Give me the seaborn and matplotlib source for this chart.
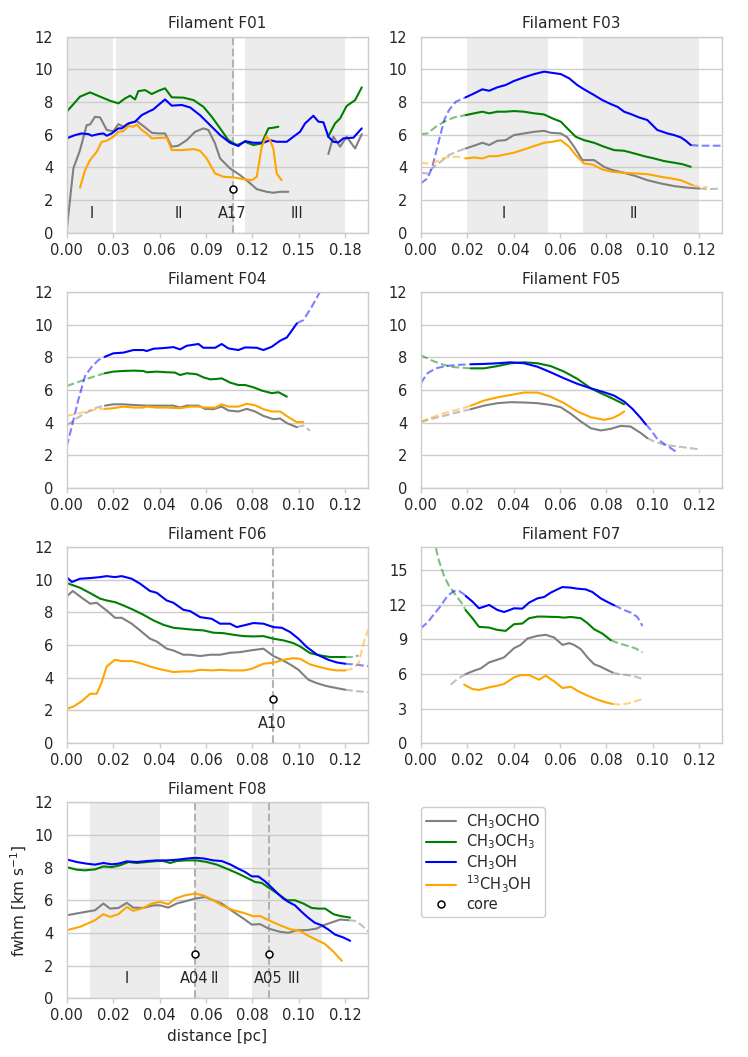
import matplotlib
matplotlib.use("Agg")
import matplotlib.pyplot as plt
import seaborn as sns
from matplotlib.lines import Line2D
from matplotlib.ticker import FormatStrFormatter, MultipleLocator

# ---------------- data ----------------
species = ["CH$_3$OCHO", "CH$_3$OCH$_3$", "CH$_3$OH", "$^{13}$CH$_3$OH"]
colors = ["gray", "green", "blue", "orange"]

# ---- F01 ----
F01_gray_x = [0, 0.0043, 0.0086, 0.0129, 0.0151, 0.0183, 0.0216, 0.0259, 0.0302, 0.0334, 0.0366, 0.0399, 0.0453, 0.0496,
              0.055, 0.0593, 0.0636, 0.0679, 0.0722, 0.0776, 0.083, 0.0884, 0.0916, 0.0959, 0.0992, 0.1056, 0.1121, 0.1175,
              0.1229, 0.1293, 0.1336, 0.138, 0.1433]
F01_gray_y = [0.16, 3.94, 5.06, 6.59, 6.63, 7.1, 7.06, 6.29, 6.22, 6.65, 6.49, 6.69, 6.84, 6.53,
              6.12, 6.08, 6.08, 5.27, 5.33, 5.67, 6.18, 6.39, 6.29, 5.47, 4.55, 3.94, 3.53, 3.12,
              2.67, 2.51, 2.45, 2.51, 2.51]
F01_gray2_x = [0.1692, 0.1724, 0.1768, 0.181, 0.1865, 0.1908]
F01_gray2_y = [4.82, 5.88, 5.27, 5.88, 5.16, 6.04]
F01_green_x = [0, 0.0086, 0.0151, 0.0216, 0.028, 0.0334, 0.0377, 0.041, 0.0442, 0.0463, 0.0507, 0.055, 0.0593, 0.0636,
               0.0679, 0.0754, 0.082, 0.0884, 0.0938, 0.0992, 0.1045, 0.11, 0.1153, 0.1207, 0.126, 0.1304, 0.1336, 0.1369]
F01_green_y = [7.41, 8.33, 8.59, 8.33, 8.08, 7.92, 8.22, 8.39, 8.16, 8.67, 8.73, 8.49, 8.69, 8.84,
               8.29, 8.27, 8.12, 7.71, 7.10, 6.39, 5.67, 5.37, 5.57, 5.37, 5.47, 6.39, 6.43, 6.49]
F01_green2_x = [0.169, 0.1724, 0.1735, 0.1768, 0.181, 0.1865, 0.1908]
F01_green2_y = [5.88, 6.49, 6.69, 7.0, 7.76, 8.12, 8.9]
F01_blue_x = [0, 0.0054, 0.0097, 0.014, 0.0162, 0.0205, 0.0237, 0.0259, 0.0291, 0.0334, 0.0356, 0.0399, 0.0442, 0.0485,
              0.0528, 0.056, 0.0593, 0.0636, 0.0679, 0.0744, 0.0798, 0.0862, 0.0927, 0.0992, 0.1056, 0.111, 0.1153,
              0.1207, 0.1272, 0.1315, 0.1358, 0.1423, 0.1466, 0.1509, 0.1541, 0.1595, 0.1628, 0.166, 0.1692, 0.1724,
              0.1757, 0.1789, 0.1854, 0.1908]
F01_blue_y = [5.78, 5.98, 6.08, 6.04, 5.94, 6.04, 6.08, 5.94, 6.08, 6.39, 6.39, 6.69, 6.80, 7.2,
              7.41, 7.55, 7.82, 8.16, 7.78, 7.82, 7.67, 7.2, 6.59, 5.98, 5.51, 5.31, 5.61,
              5.51, 5.51, 5.67, 5.57, 5.57, 5.88, 6.18, 6.69, 7.16, 6.80, 6.76, 5.88, 5.57,
              5.53, 5.78, 5.82, 6.39]
F01_orange_x = [0.0086, 0.0119, 0.0151, 0.0194, 0.0226, 0.0259, 0.0302, 0.0334, 0.0366, 0.0399, 0.0431, 0.0453, 0.0485,
                0.0517, 0.055, 0.0625, 0.0647, 0.0679, 0.0744, 0.082, 0.0862, 0.0905, 0.0959, 0.1013, 0.1078, 0.1142,
                0.1196, 0.1229, 0.1261, 0.1289, 0.1315, 0.1336, 0.1358, 0.139]
F01_orange_y = [2.76, 3.84, 4.45, 4.96, 5.57, 5.63, 5.88, 6.18, 6.22, 6.53, 6.49, 6.63, 6.29,
                6.08, 5.78, 5.82, 5.82, 5.06, 5.06, 5.12, 5.02, 4.55, 3.63, 3.43, 3.39, 3.29,
                3.22, 3.43, 5.27, 5.88, 5.67, 5.16, 3.63, 3.22]
F01_regions = [(0.0, 0.030), (0.032, 0.108), (0.115, 0.18)]
F01_region_labels = ["I", "II", "III"]
F01_region_label_x = [0.016, 0.0726, 0.149]
F01_cores_x = [0.1078]
F01_core_labels = ["A17"]

# ---- F03 ----
F03_gray_dx = [0, 0.0029, 0.0057, 0.0086, 0.0122, 0.0165, 0.0194]
F03_gray_dy = [3.67, 3.63, 4.04, 4.35, 4.76, 5.02, 5.16]
F03_gray_x = [0.0194, 0.023, 0.0266, 0.0295, 0.033, 0.0366, 0.0402, 0.0445, 0.0489, 0.0532, 0.056, 0.0604, 0.0632,
              0.0661, 0.0697, 0.0747, 0.079, 0.0826, 0.0877, 0.0927, 0.0977, 0.1035, 0.1092, 0.115, 0.12]
F03_gray_y = [5.16, 5.33, 5.51, 5.37, 5.63, 5.67, 5.98, 6.08, 6.18, 6.24, 6.12, 6.08, 5.84,
              5.27, 4.45, 4.45, 4.04, 3.84, 3.67, 3.47, 3.22, 3.02, 2.86, 2.76, 2.71]
F03_gray_ex = [0.12, 0.1236, 0.1293]
F03_gray_ey = [2.71, 2.67, 2.71]
F03_green_dx = [0, 0.0029, 0.0065, 0.0101, 0.0144, 0.0194]
F03_green_dy = [6.04, 6.08, 6.49, 6.80, 7.06, 7.2]
F03_green_x = [0.0194, 0.023, 0.0266, 0.0295, 0.033, 0.0366, 0.0402, 0.0445, 0.0489, 0.0532, 0.0568, 0.0604, 0.0632,
               0.0668, 0.0704, 0.0747, 0.079, 0.0834, 0.0877, 0.092, 0.0963, 0.1006, 0.1049, 0.1092, 0.1128, 0.1164]
F03_green_y = [7.2, 7.31, 7.41, 7.31, 7.41, 7.41, 7.45, 7.41, 7.31, 7.24, 7.0, 6.8, 6.39,
               5.88, 5.67, 5.51, 5.27, 5.06, 5.02, 4.86, 4.69, 4.55, 4.39, 4.29, 4.20, 4.04]
F03_blue_dx = [0, 0.0029, 0.005, 0.0079, 0.0101, 0.0122, 0.0151, 0.0194]
F03_blue_dy = [3.02, 3.33, 4.04, 5.67, 6.9, 7.51, 8.02, 8.29]
F03_blue_x = [0.0194, 0.023, 0.0266, 0.0295, 0.033, 0.0366, 0.0402, 0.0445, 0.0489, 0.0532, 0.056, 0.0604, 0.064,
              0.0675, 0.0704, 0.0747, 0.0783, 0.0819, 0.0848, 0.0877, 0.0905, 0.0941, 0.0977, 0.102, 0.1064, 0.1092,
              0.1121, 0.1143, 0.1164]
F03_blue_y = [8.29, 8.53, 8.78, 8.69, 8.9, 9.04, 9.29, 9.51, 9.71, 9.86, 9.80, 9.71, 9.45,
              9.04, 8.78, 8.43, 8.12, 7.88, 7.71, 7.41, 7.27, 7.06, 6.90, 6.29, 6.08, 5.98,
              5.84, 5.63, 5.37]
F03_blue_ex = [0.1164, 0.12, 0.1236, 0.1293]
F03_blue_ey = [5.37, 5.33, 5.33, 5.33]
F03_orange_dx = [0, 0.0029, 0.0065, 0.0093, 0.0129, 0.0165, 0.0194]
F03_orange_dy = [4.29, 4.24, 4.35, 4.55, 4.65, 4.65, 4.55]
F03_orange_x = [0.0194, 0.023, 0.0266, 0.0295, 0.033, 0.0366, 0.0402, 0.0445, 0.0489, 0.0532, 0.0568, 0.0604, 0.064,
                0.0668, 0.0704, 0.074, 0.0783, 0.0826, 0.0877, 0.0934, 0.0977, 0.1035, 0.1078, 0.1121, 0.1171]
F03_orange_y = [4.55, 4.61, 4.55, 4.69, 4.69, 4.80, 4.90, 5.10, 5.31, 5.51, 5.57, 5.67, 5.27,
                4.76, 4.24, 4.18, 3.88, 3.73, 3.67, 3.63, 3.59, 3.43, 3.33, 3.22, 2.92]
F03_orange_ex = [0.1171, 0.12, 0.1236]
F03_orange_ey = [2.92, 2.82, 2.78]
F03_regions = [(0.02, 0.055), (0.07, 0.12)]
F03_region_labels = ["I", "II"]
F03_region_label_x = [0.0356, 0.0917]

# ---- F04 ----
F04_gray_dx = [0, 0.0043, 0.0086, 0.0129, 0.0165]
F04_gray_dy = [3.82, 4.27, 4.62, 4.92, 5.04]
F04_gray_x = [0.0165, 0.0201, 0.0244, 0.0287, 0.0345, 0.0402, 0.046, 0.0489, 0.0517, 0.0568, 0.0596, 0.0632, 0.0668,
              0.0697, 0.074, 0.0776, 0.0812, 0.0848, 0.0891, 0.092, 0.0949, 0.0992]
F04_gray_y = [5.04, 5.12, 5.12, 5.08, 5.04, 5.04, 5.04, 4.92, 5.04, 5.04, 4.84, 4.82, 4.98,
              4.74, 4.68, 4.84, 4.68, 4.41, 4.21, 4.25, 3.97, 3.72]
F04_gray_ex = [0.0992, 0.102, 0.1049]
F04_gray_ey = [3.72, 3.82, 3.50]
F04_green_dx = [0, 0.0043, 0.0086, 0.0129, 0.0165]
F04_green_dy = [6.24, 6.45, 6.67, 6.87, 7.02]
F04_green_x = [0.0165, 0.0201, 0.0244, 0.0287, 0.033, 0.0345, 0.0388, 0.0431, 0.0467, 0.0489, 0.0517, 0.056, 0.0589,
               0.0618, 0.0647, 0.0668, 0.0704, 0.074, 0.0769, 0.0805, 0.0841, 0.0884, 0.0913, 0.0949]
F04_green_y = [7.02, 7.12, 7.16, 7.18, 7.16, 7.08, 7.12, 7.08, 7.06, 6.91, 7.02, 6.96, 6.77,
               6.65, 6.67, 6.71, 6.45, 6.30, 6.30, 6.16, 5.96, 5.80, 5.86, 5.59]
F04_blue_dx = [0, 0.0022, 0.005, 0.0079, 0.0108, 0.0137, 0.0165]
F04_blue_dy = [2.54, 3.76, 5.39, 6.85, 7.42, 7.83, 8.03]
F04_blue_x = [0.0165, 0.0201, 0.0244, 0.0287, 0.033, 0.0345, 0.0374, 0.0417, 0.046, 0.0489, 0.0517, 0.0568, 0.0589,
              0.064, 0.0668, 0.0697, 0.074, 0.0769, 0.0819, 0.0848, 0.0884, 0.092, 0.0949, 0.097, 0.0992]
F04_blue_y = [8.03, 8.24, 8.28, 8.44, 8.44, 8.38, 8.52, 8.56, 8.62, 8.48, 8.70, 8.81, 8.58,
              8.58, 8.81, 8.54, 8.44, 8.60, 8.58, 8.44, 8.64, 9.01, 9.21, 9.62, 10.07]
F04_blue_ex = [0.0992, 0.102, 0.1056, 0.1092, 0.111]
F04_blue_ey = [10.07, 10.27, 11.08, 12.0, 12.6]
F04_orange_dx = [0, 0.0043, 0.0086, 0.0129, 0.0165]
F04_orange_dy = [4.41, 4.54, 4.68, 4.82, 4.84]
F04_orange_x = [0.0165, 0.0201, 0.0244, 0.0287, 0.033, 0.0345, 0.0388, 0.0431, 0.0489, 0.0532, 0.0568, 0.0596, 0.064,
                0.0668, 0.0697, 0.074, 0.0776, 0.0812, 0.0848, 0.0884, 0.092, 0.0956, 0.0992, 0.102]
F04_orange_y = [4.84, 4.88, 4.98, 4.92, 4.92, 4.98, 4.92, 4.92, 4.88, 4.98, 4.98, 4.92, 4.92,
                5.12, 4.98, 4.98, 5.15, 5.06, 4.82, 4.68, 4.68, 4.33, 4.03, 4.03]

# ---- F05 ----
F05_gray_dx = [0, 0.0057, 0.0115, 0.0172, 0.0216]
F05_gray_dy = [4.03, 4.27, 4.47, 4.68, 4.82]
F05_gray_x = [0.0216, 0.0273, 0.0331, 0.0388, 0.0446, 0.0503, 0.056, 0.0604, 0.0647, 0.069, 0.0733, 0.0776, 0.0819,
              0.0862, 0.0905, 0.0949, 0.0977]
F05_gray_y = [4.82, 5.04, 5.19, 5.25, 5.23, 5.19, 5.08, 4.94, 4.54, 4.07, 3.66, 3.52, 3.62,
              3.80, 3.76, 3.36, 3.05]
F05_gray_ex = [0.0977, 0.1006, 0.1049, 0.1107, 0.1193]
F05_gray_ey = [3.05, 2.85, 2.64, 2.54, 2.38]
F05_green_dx = [0, 0.0043, 0.0086, 0.0129, 0.0172, 0.0216]
F05_green_dy = [8.13, 7.83, 7.59, 7.42, 7.36, 7.32]
F05_green_x = [0.0216, 0.0273, 0.0331, 0.0388, 0.0446, 0.0503, 0.056, 0.0618, 0.0676, 0.0733, 0.0776, 0.0819, 0.0877]
F05_green_y = [7.32, 7.32, 7.46, 7.63, 7.69, 7.63, 7.46, 7.12, 6.67, 6.10, 5.80, 5.53, 5.12]
F05_blue_dx = [0, 0.0029, 0.0065, 0.0108, 0.0158, 0.0216]
F05_blue_dy = [6.41, 7.02, 7.32, 7.46, 7.53, 7.57]
F05_blue_x = [0.0216, 0.0273, 0.0331, 0.0388, 0.0446, 0.0503, 0.056, 0.0618, 0.0676, 0.0733, 0.079, 0.0834, 0.0877,
              0.0913, 0.0949, 0.097]
F05_blue_y = [7.57, 7.59, 7.63, 7.69, 7.63, 7.42, 7.08, 6.71, 6.37, 6.10, 5.86, 5.65, 5.29,
              4.84, 4.27, 3.9]
F05_blue_ex = [0.097, 0.0992, 0.102, 0.1056, 0.1099]
F05_blue_ey = [3.9, 3.56, 2.99, 2.64, 2.24]
F05_orange_dx = [0, 0.0057, 0.0115, 0.0172, 0.0216]
F05_orange_dy = [4.07, 4.37, 4.64, 4.84, 5.04]
F05_orange_x = [0.0216, 0.0273, 0.0331, 0.0388, 0.0446, 0.0503, 0.056, 0.0618, 0.0676, 0.0733, 0.079, 0.0826, 0.0855, 0.0877]
F05_orange_y = [5.04, 5.35, 5.55, 5.69, 5.84, 5.84, 5.59, 5.19, 4.68, 4.33, 4.17, 4.27, 4.47, 4.68]

# ---- F06 ----
F06_gray_x = [0, 0.0026, 0.0057, 0.0101, 0.0129, 0.0172, 0.0208, 0.0237, 0.028, 0.0316, 0.0359, 0.0388, 0.0431, 0.046,
              0.0503, 0.0532, 0.0575, 0.0618, 0.0661, 0.0704, 0.0747, 0.079, 0.0848, 0.0891, 0.0927, 0.0963, 0.0999,
              0.1042, 0.1078, 0.1121, 0.1164, 0.12]
F06_gray_y = [8.98, 9.31, 8.98, 8.53, 8.59, 8.12, 7.67, 7.67, 7.31, 6.90, 6.39, 6.22, 5.78, 5.67,
              5.41, 5.41, 5.33, 5.41, 5.41, 5.53, 5.57, 5.67, 5.78, 5.33, 5.10, 4.82, 4.49,
              3.88, 3.67, 3.49, 3.37, 3.27]
F06_gray_ex = [0.12, 0.125, 0.13]
F06_gray_ey = [3.27, 3.18, 3.12]
F06_green_x = [0, 0.0029, 0.0057, 0.0101, 0.0144, 0.0172, 0.0208, 0.0244, 0.0287, 0.033, 0.0374, 0.0417, 0.046, 0.0503,
               0.0546, 0.0589, 0.0632, 0.0675, 0.0719, 0.0762, 0.0805, 0.0848, 0.0891, 0.0934, 0.0977, 0.1006, 0.1049,
               0.1092, 0.1135, 0.12]
F06_green_y = [9.80, 9.65, 9.51, 9.18, 8.84, 8.73, 8.63, 8.43, 8.16, 7.86, 7.51, 7.24, 7.06, 7.0,
               6.94, 6.90, 6.76, 6.73, 6.63, 6.55, 6.53, 6.55, 6.39, 6.29, 6.12, 5.92, 5.51,
               5.37, 5.27, 5.27]
F06_green_ex = [0.12, 0.1236, 0.1258]
F06_green_ey = [5.27, 5.27, 5.37]
F06_blue_x = [0, 0.0022, 0.0057, 0.0101, 0.0144, 0.0172, 0.0208, 0.0237, 0.028, 0.0316, 0.0359, 0.0388, 0.0431, 0.046,
              0.0503, 0.0532, 0.0575, 0.0625, 0.0661, 0.0704, 0.0733, 0.0762, 0.0805, 0.0848, 0.0891, 0.0927, 0.0963,
              0.0999, 0.1035, 0.1078, 0.1128, 0.1164, 0.12]
F06_blue_y = [10.16, 9.86, 10.06, 10.10, 10.16, 10.22, 10.16, 10.22, 10.06, 9.76, 9.31, 9.2, 8.73, 8.59,
              8.16, 8.08, 7.71, 7.61, 7.31, 7.31, 7.10, 7.20, 7.35, 7.31, 7.10, 7.06, 6.80,
              6.39, 5.88, 5.43, 5.10, 4.94, 4.86]
F06_blue_ex = [0.12, 0.125, 0.13]
F06_blue_ey = [4.86, 4.80, 4.71]
F06_orange_x = [0, 0.0029, 0.0065, 0.0101, 0.0129, 0.0151, 0.0172, 0.0208, 0.0237, 0.028, 0.0316, 0.0359, 0.0395, 0.046,
                0.0503, 0.0539, 0.0575, 0.0632, 0.0661, 0.0704, 0.0762, 0.0798, 0.0848, 0.0891, 0.0934, 0.0977, 0.1006,
                0.1049, 0.1092, 0.1135, 0.1164, 0.12]
F06_orange_y = [2.10, 2.24, 2.57, 3.02, 3.02, 3.73, 4.69, 5.10, 5.02, 5.02, 4.90, 4.69, 4.55, 4.35,
                4.39, 4.39, 4.49, 4.45, 4.49, 4.45, 4.45, 4.55, 4.86, 4.92, 5.10, 5.20, 5.16,
                4.82, 4.65, 4.51, 4.45, 4.45]
F06_orange_ex = [0.12, 0.1229, 0.1258, 0.1279, 0.13]
F06_orange_ey = [4.45, 4.55, 4.86, 6.08, 6.96]
F06_cores_x = [0.0891]
F06_core_labels = ["A10"]

# ---- F07 ----
F07_gray_dx = [0.0129, 0.0158, 0.0187, 0.0194]
F07_gray_dy = [5.07, 5.56, 5.90, 5.99]
F07_gray_x = [0.0194, 0.023, 0.0259, 0.0295, 0.033, 0.0359, 0.0402, 0.0431, 0.046, 0.0503, 0.0539, 0.0575, 0.0611,
              0.064, 0.0661, 0.069, 0.0719, 0.0747, 0.0776, 0.0805, 0.0826]
F07_gray_y = [5.99, 6.28, 6.48, 7.0, 7.23, 7.43, 8.23, 8.52, 9.07, 9.30, 9.39, 9.16, 8.52,
              8.67, 8.52, 8.15, 7.43, 6.85, 6.62, 6.33, 6.13]
F07_gray_ex = [0.0826, 0.0855, 0.0891, 0.0927, 0.0956]
F07_gray_ey = [6.13, 5.99, 5.90, 5.76, 5.56]
F07_green_dx = [0.0065, 0.0079, 0.0101, 0.0122, 0.0151, 0.018, 0.0194]
F07_green_dy = [16.93, 15.78, 14.48, 13.62, 12.84, 12.04, 11.52]
F07_green_x = [0.0194, 0.0223, 0.0251, 0.0295, 0.033, 0.0366, 0.0402, 0.0438, 0.0467, 0.0503, 0.0532, 0.0568, 0.0589,
               0.0618, 0.0647, 0.069, 0.0719, 0.0747, 0.0783, 0.0819]
F07_green_y = [11.52, 10.83, 10.08, 10.02, 9.82, 9.73, 10.31, 10.37, 10.83, 10.97, 10.97, 10.94, 10.94,
               10.88, 10.94, 10.83, 10.40, 9.88, 9.50, 8.93]
F07_green_ex = [0.0819, 0.0855, 0.0891, 0.0927, 0.0956]
F07_green_ey = [8.93, 8.64, 8.44, 8.21, 7.86]
F07_blue_dx = [0, 0.0029, 0.0057, 0.0086, 0.0115, 0.0144, 0.0165, 0.0187, 0.0194]
F07_blue_dy = [9.96, 10.45, 11.17, 11.89, 12.76, 13.19, 13.19, 12.90, 12.76]
F07_blue_x = [0.0194, 0.0223, 0.0251, 0.0273, 0.0295, 0.033, 0.0359, 0.0381, 0.0402, 0.0438, 0.0467, 0.0503, 0.0532,
              0.056, 0.0589, 0.0611, 0.0647, 0.0675, 0.0711, 0.074, 0.0776, 0.0805, 0.0834]
F07_blue_y = [12.76, 12.27, 11.69, 11.83, 11.98, 11.55, 11.37, 11.52, 11.69, 11.66, 12.18, 12.55, 12.67,
              13.04, 13.33, 13.53, 13.48, 13.39, 13.33, 13.10, 12.55, 12.24, 11.95]
F07_blue_ex = [0.0834, 0.087, 0.0905, 0.0934, 0.0956]
F07_blue_ey = [11.95, 11.60, 11.32, 10.94, 10.16]
F07_orange_x = [0.0187, 0.0223, 0.0251, 0.0295, 0.033, 0.0359, 0.0402, 0.0431, 0.0467, 0.051, 0.0539, 0.0575, 0.0611,
                0.0647, 0.0683, 0.0719, 0.0762, 0.0798, 0.0826]
F07_orange_y = [5.07, 4.69, 4.61, 4.84, 4.98, 5.13, 5.70, 5.90, 5.90, 5.50, 5.85, 5.36, 4.78,
                4.89, 4.46, 4.12, 3.77, 3.54, 3.40]
F07_orange_ex = [0.0826, 0.0862, 0.0898, 0.0956]
F07_orange_ey = [3.40, 3.34, 3.46, 3.83]

# ---- F08 ----
F08_gray_x = [0, 0.0057, 0.0122, 0.0158, 0.0187, 0.0223, 0.0259, 0.0287, 0.033, 0.0374, 0.0402, 0.0438, 0.0474, 0.0517,
              0.0553, 0.0596, 0.0632, 0.0668, 0.0719, 0.0762, 0.0798, 0.0834, 0.087, 0.092, 0.0956, 0.0992, 0.1035,
              0.1078, 0.1107, 0.115, 0.1179, 0.1214]
F08_gray_y = [5.08, 5.23, 5.39, 5.80, 5.49, 5.53, 5.84, 5.55, 5.53, 5.69, 5.69, 5.55, 5.80, 5.96,
              6.10, 6.20, 6.00, 5.80, 5.29, 4.88, 4.51, 4.54, 4.27, 4.07, 4.01, 4.17, 4.17,
              4.27, 4.47, 4.68, 4.82, 4.78]
F08_gray_ex = [0.1214, 0.1243, 0.1272, 0.13]
F08_gray_ey = [4.78, 4.74, 4.47, 4.07]
F08_green_x = [0, 0.0043, 0.0079, 0.0122, 0.0158, 0.0194, 0.023, 0.0266, 0.0302, 0.0345, 0.0388, 0.0417, 0.0446, 0.0474,
               0.0517, 0.056, 0.0604, 0.0647, 0.069, 0.0733, 0.0776, 0.0812, 0.0841, 0.0877, 0.0913, 0.0949, 0.0984,
               0.102, 0.1056, 0.1085, 0.1114, 0.115, 0.1179, 0.1222]
F08_green_y = [8.03, 7.87, 7.83, 7.89, 8.07, 8.03, 8.14, 8.34, 8.28, 8.34, 8.40, 8.40, 8.28, 8.40,
               8.44, 8.44, 8.34, 8.18, 7.93, 7.67, 7.38, 7.12, 7.06, 6.71, 6.37, 6.00, 6.00,
               5.80, 5.53, 5.49, 5.49, 5.15, 5.04, 4.94]
F08_blue_x = [0, 0.0043, 0.0086, 0.0122, 0.0158, 0.0194, 0.0223, 0.0259, 0.0302, 0.0345, 0.0388, 0.0431, 0.0474, 0.051,
              0.0553, 0.0589, 0.0632, 0.0668, 0.0704, 0.074, 0.0769, 0.0798, 0.0826, 0.0855, 0.0884, 0.0913, 0.0934,
              0.0956, 0.0984, 0.1013, 0.1042, 0.107, 0.1099, 0.1128, 0.1157, 0.1193, 0.1222]
F08_blue_y = [8.50, 8.34, 8.24, 8.18, 8.28, 8.20, 8.24, 8.38, 8.34, 8.40, 8.44, 8.44, 8.48, 8.54,
              8.60, 8.56, 8.44, 8.40, 8.20, 7.93, 7.73, 7.46, 7.46, 7.16, 6.77, 6.37, 6.10,
              5.90, 5.69, 5.29, 4.92, 4.62, 4.47, 4.21, 3.90, 3.72, 3.52]
F08_orange_x = [0, 0.0057, 0.0122, 0.0158, 0.0187, 0.0223, 0.0259, 0.0287, 0.033, 0.0366, 0.0402, 0.0438, 0.0467, 0.051,
                0.0553, 0.0589, 0.0632, 0.0668, 0.0719, 0.0762, 0.0805, 0.0834, 0.087, 0.092, 0.0963, 0.1006, 0.1042,
                0.1085, 0.1114, 0.115, 0.1186]
F08_orange_y = [4.17, 4.37, 4.78, 5.15, 4.98, 5.15, 5.59, 5.35, 5.53, 5.80, 5.90, 5.76, 6.10, 6.30,
                6.41, 6.30, 6.00, 5.69, 5.39, 5.23, 5.02, 5.04, 4.78, 4.47, 4.23, 4.13, 3.82,
                3.52, 3.32, 2.85, 2.30]
F08_regions = [(0.01, 0.04), (0.0555, 0.07), (0.08, 0.11)]
F08_region_labels = ["I", "II", "III"]
F08_region_label_x = [0.0259, 0.0638, 0.0978]
F08_cores_x = [0.0553, 0.0874]
F08_core_labels = ["A04", "A05"]

CORE_Y = 2.7
LABEL_Y = 1.2

# ---------------- style ----------------
sns.set_theme(style="whitegrid")
plt.rcParams.update({
    "font.family": ["DejaVu Sans"],
    "axes.edgecolor": "0.8",
    "axes.linewidth": 1.0,
    "grid.color": "0.8",
    "grid.linewidth": 1.0,
    "axes.grid.axis": "y",
    "xtick.bottom": True,
    "xtick.major.size": 3.5,
    "xtick.major.width": 1.0,
    "xtick.color": "0.8",
    "xtick.labelcolor": "0.15",
    "ytick.labelcolor": "0.15",
    "xtick.labelsize": 10.5,
    "ytick.labelsize": 10.5,
    "axes.titlesize": 11,
    "axes.labelsize": 11,
    "legend.fontsize": 10.5,
})

fig, axes = plt.subplots(4, 2, figsize=(7.48, 10.57), dpi=100)
fig.subplots_adjust(left=0.0892, right=0.9656, top=0.9653, bottom=0.0555, wspace=0.174, hspace=0.301)

LW = 1.5


def solid(ax, x, y, c):
    sns.lineplot(x=x, y=y, ax=ax, color=c, lw=LW, sort=False, estimator=None)


def dashed(ax, x, y, c):
    sns.lineplot(x=x, y=y, ax=ax, color=c, lw=LW, sort=False, estimator=None,
                 linestyle="--", alpha=0.5)


def regions(ax, spans, labels, label_x):
    for (a, b), lab, lx in zip(spans, labels, label_x):
        ax.axvspan(a, b, color="0.925", lw=0, zorder=0)
        ax.text(lx, LABEL_Y, lab, ha="center", va="center", fontsize=10.5, color="0.15")


def cores(ax, xs, labels):
    for x, lab in zip(xs, labels):
        ax.axvline(x, color="0.7", ls="--", lw=1.5, zorder=1.5)
        ax.plot([x], [CORE_Y], marker="o", ms=5, mfc="white", mec="black", mew=1.1, ls="none", zorder=5)
        ax.text(x - 0.0005, LABEL_Y, lab, ha="center", va="center", fontsize=10.5, color="0.15")


def setup(ax, title, xmax=0.13, xstep=0.02, ymax=12, ystep=2):
    ax.set_title(title, color="0.15")
    ax.set_xlim(0, xmax)
    ax.set_ylim(0, ymax)
    ax.xaxis.set_major_locator(MultipleLocator(xstep))
    ax.yaxis.set_major_locator(MultipleLocator(ystep))
    ax.xaxis.set_major_formatter(FormatStrFormatter("%.2f"))
    ax.set_xlabel("")
    ax.set_ylabel("")


# F01
ax = axes[0, 0]
regions(ax, F01_regions, F01_region_labels, F01_region_label_x)
cores(ax, F01_cores_x, F01_core_labels)
solid(ax, F01_gray_x, F01_gray_y, colors[0])
solid(ax, F01_gray2_x, F01_gray2_y, colors[0])
solid(ax, F01_green_x, F01_green_y, colors[1])
solid(ax, F01_green2_x, F01_green2_y, colors[1])
solid(ax, F01_blue_x, F01_blue_y, colors[2])
solid(ax, F01_orange_x, F01_orange_y, colors[3])
setup(ax, "Filament F01", xmax=0.195, xstep=0.03)

# F03
ax = axes[0, 1]
regions(ax, F03_regions, F03_region_labels, F03_region_label_x)
dashed(ax, F03_gray_dx, F03_gray_dy, colors[0])
solid(ax, F03_gray_x, F03_gray_y, colors[0])
dashed(ax, F03_gray_ex, F03_gray_ey, colors[0])
dashed(ax, F03_green_dx, F03_green_dy, colors[1])
solid(ax, F03_green_x, F03_green_y, colors[1])
dashed(ax, F03_blue_dx, F03_blue_dy, colors[2])
solid(ax, F03_blue_x, F03_blue_y, colors[2])
dashed(ax, F03_blue_ex, F03_blue_ey, colors[2])
dashed(ax, F03_orange_dx, F03_orange_dy, colors[3])
solid(ax, F03_orange_x, F03_orange_y, colors[3])
dashed(ax, F03_orange_ex, F03_orange_ey, colors[3])
setup(ax, "Filament F03")

# F04
ax = axes[1, 0]
dashed(ax, F04_gray_dx, F04_gray_dy, colors[0])
solid(ax, F04_gray_x, F04_gray_y, colors[0])
dashed(ax, F04_gray_ex, F04_gray_ey, colors[0])
dashed(ax, F04_green_dx, F04_green_dy, colors[1])
solid(ax, F04_green_x, F04_green_y, colors[1])
dashed(ax, F04_blue_dx, F04_blue_dy, colors[2])
solid(ax, F04_blue_x, F04_blue_y, colors[2])
dashed(ax, F04_blue_ex, F04_blue_ey, colors[2])
dashed(ax, F04_orange_dx, F04_orange_dy, colors[3])
solid(ax, F04_orange_x, F04_orange_y, colors[3])
setup(ax, "Filament F04")

# F05
ax = axes[1, 1]
dashed(ax, F05_gray_dx, F05_gray_dy, colors[0])
solid(ax, F05_gray_x, F05_gray_y, colors[0])
dashed(ax, F05_gray_ex, F05_gray_ey, colors[0])
dashed(ax, F05_green_dx, F05_green_dy, colors[1])
solid(ax, F05_green_x, F05_green_y, colors[1])
dashed(ax, F05_blue_dx, F05_blue_dy, colors[2])
solid(ax, F05_blue_x, F05_blue_y, colors[2])
dashed(ax, F05_blue_ex, F05_blue_ey, colors[2])
dashed(ax, F05_orange_dx, F05_orange_dy, colors[3])
solid(ax, F05_orange_x, F05_orange_y, colors[3])
setup(ax, "Filament F05")

# F06
ax = axes[2, 0]
cores(ax, F06_cores_x, F06_core_labels)
solid(ax, F06_gray_x, F06_gray_y, colors[0])
dashed(ax, F06_gray_ex, F06_gray_ey, colors[0])
solid(ax, F06_green_x, F06_green_y, colors[1])
dashed(ax, F06_green_ex, F06_green_ey, colors[1])
solid(ax, F06_blue_x, F06_blue_y, colors[2])
dashed(ax, F06_blue_ex, F06_blue_ey, colors[2])
solid(ax, F06_orange_x, F06_orange_y, colors[3])
dashed(ax, F06_orange_ex, F06_orange_ey, colors[3])
setup(ax, "Filament F06")

# F07
ax = axes[2, 1]
dashed(ax, F07_gray_dx, F07_gray_dy, colors[0])
solid(ax, F07_gray_x, F07_gray_y, colors[0])
dashed(ax, F07_gray_ex, F07_gray_ey, colors[0])
dashed(ax, F07_green_dx, F07_green_dy, colors[1])
solid(ax, F07_green_x, F07_green_y, colors[1])
dashed(ax, F07_green_ex, F07_green_ey, colors[1])
dashed(ax, F07_blue_dx, F07_blue_dy, colors[2])
solid(ax, F07_blue_x, F07_blue_y, colors[2])
dashed(ax, F07_blue_ex, F07_blue_ey, colors[2])
solid(ax, F07_orange_x, F07_orange_y, colors[3])
dashed(ax, F07_orange_ex, F07_orange_ey, colors[3])
setup(ax, "Filament F07", ymax=17, ystep=3)

# F08
ax = axes[3, 0]
regions(ax, F08_regions, F08_region_labels, F08_region_label_x)
cores(ax, F08_cores_x, F08_core_labels)
solid(ax, F08_gray_x, F08_gray_y, colors[0])
dashed(ax, F08_gray_ex, F08_gray_ey, colors[0])
solid(ax, F08_green_x, F08_green_y, colors[1])
solid(ax, F08_blue_x, F08_blue_y, colors[2])
solid(ax, F08_orange_x, F08_orange_y, colors[3])
setup(ax, "Filament F08")
ax.set_xlabel("distance [pc]", color="0.15")
ax.set_ylabel("fwhm [km s$^{-1}$]", color="0.15")

# legend panel
ax = axes[3, 1]
ax.axis("off")
handles = [Line2D([], [], color=c, lw=LW) for c in colors]
handles.append(Line2D([], [], marker="o", ms=5, mfc="white", mec="black", mew=1.1, ls="none"))
ax.legend(handles, species + ["core"], loc="upper left", bbox_to_anchor=(0.0, 0.975), borderaxespad=0.0,
          frameon=True, edgecolor="0.8", facecolor="white", framealpha=1.0,
          labelspacing=0.12, handlelength=2.05, handletextpad=0.7, borderpad=0.35)

fig.savefig("out.png", dpi=100)
